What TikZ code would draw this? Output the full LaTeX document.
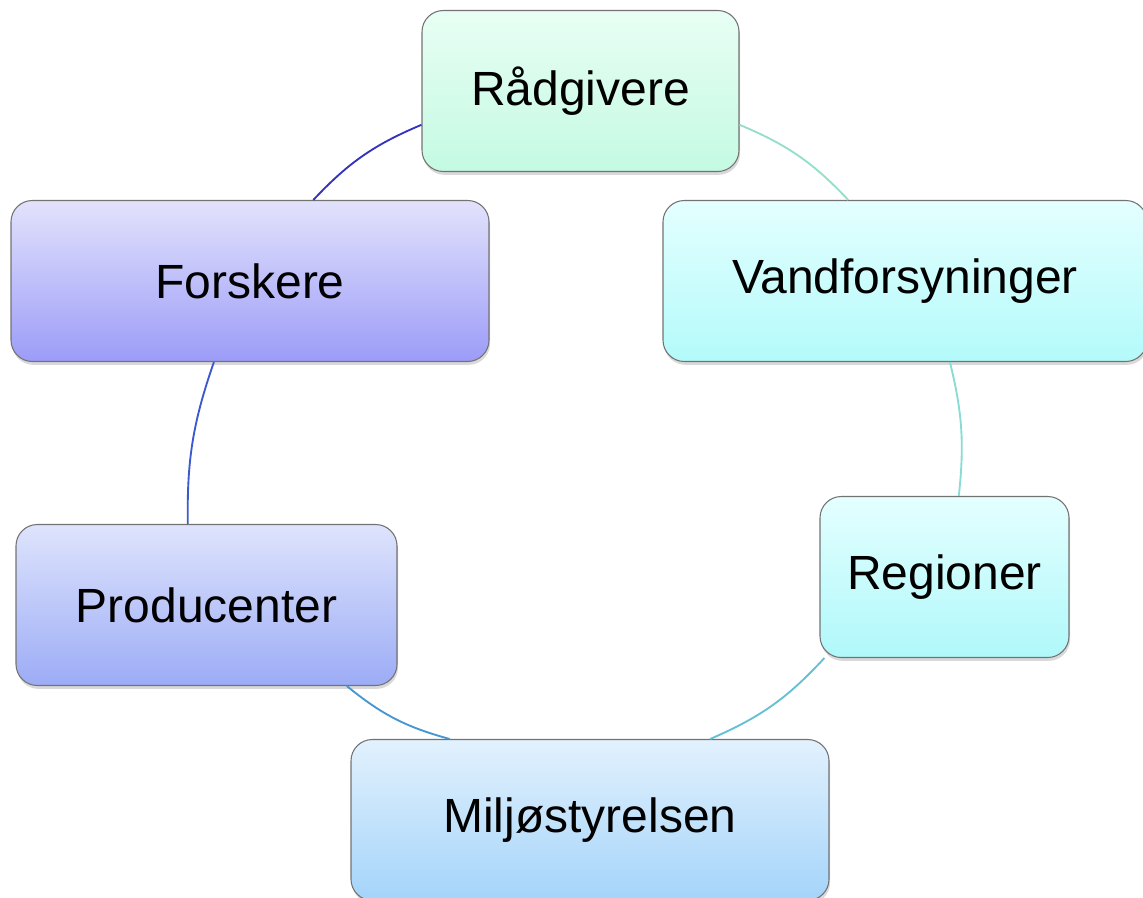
\documentclass[tikz,border=0pt]{standalone}
\usepackage{fontspec}
\setmainfont{Liberation Sans}
\usetikzlibrary{shadows}
\definecolor{cR1}{RGB}{232,254,244}\definecolor{cR2}{RGB}{196,250,226}
\definecolor{cF1}{RGB}{226,226,252}\definecolor{cF2}{RGB}{156,156,248}
\definecolor{cV1}{RGB}{228,255,255}\definecolor{cV2}{RGB}{180,250,250}
\definecolor{cG1}{RGB}{228,255,255}\definecolor{cG2}{RGB}{176,248,250}
\definecolor{cP1}{RGB}{222,228,252}\definecolor{cP2}{RGB}{156,172,246}
\definecolor{cM1}{RGB}{226,241,253}\definecolor{cM2}{RGB}{164,212,250}
\definecolor{l1}{RGB}{52,52,190}
\definecolor{l2}{RGB}{150,222,204}
\definecolor{l3}{RGB}{136,220,212}
\definecolor{l4}{RGB}{100,192,210}
\definecolor{l5}{RGB}{70,150,210}
\definecolor{l6}{RGB}{60,90,205}
\begin{document}
\begin{tikzpicture}[x=0.75pt,y=-0.75pt,
  box/.style={draw=black!55,line width=0.8pt,rounded corners=16pt,
    inner sep=0pt,minimum height=120.75pt,
    font=\fontsize{36}{43}\selectfont,
    drop shadow={opacity=0.3,shadow xshift=0.8pt,shadow yshift=-2.5pt}},
  link/.style={line width=1.4pt}]
\useasboundingbox (0,0) rectangle (1143,897);
\node[box,minimum width=237.75pt,top color=cR1,bottom color=cR2] (R) at (580.5,91) {Rådgivere};
\node[box,minimum width=358.5pt,top color=cF1,bottom color=cF2] (F) at (250,281) {Forskere};
\node[box,minimum width=363pt,top color=cV1,bottom color=cV2] (V) at (905,281) {Vandforsyninger};
\node[box,minimum width=186.75pt,top color=cG1,bottom color=cG2] (G) at (944.5,577) {Regioner};
\node[box,minimum width=285.75pt,top color=cP1,bottom color=cP2] (P) at (206.5,605) {Producenter};
\node[box,minimum width=358.5pt,top color=cM1,bottom color=cM2] (M) at (590,820) {Miljøstyrelsen};
\draw[link,l1] (F.52.6) to[bend left=12] (R.192);
\draw[link,l2] (R.348) to[bend left=12] (V.125.5);
\draw[link,l3] (V.299) to[bend left=10] (G.80);
\draw[link,l4] (G.214.7) to[bend left=12] (M.34.3);
\draw[link,l5] (M.150.2) to[bend left=12] (P.330.9);
\draw[link,l6] (P.103.2) to[bend left=10] (F.246.2);
\end{tikzpicture}
\end{document}
